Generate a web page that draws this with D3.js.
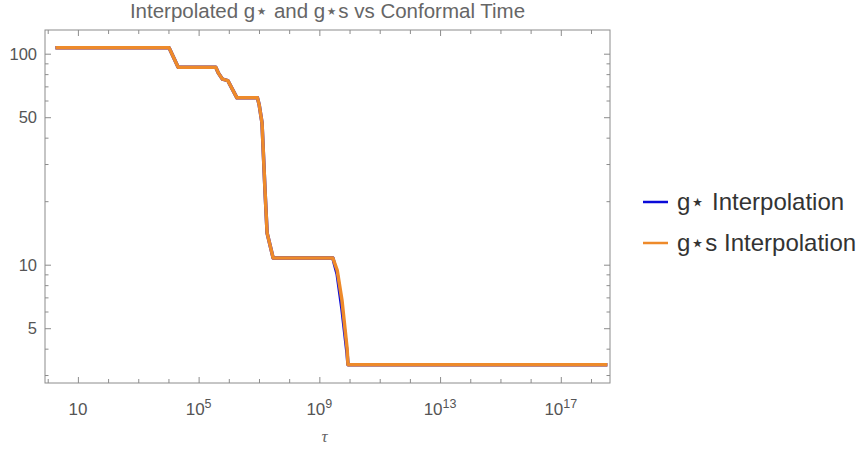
<!DOCTYPE html>
<html>
<head>
<meta charset="utf-8">
<script src="https://cdn.jsdelivr.net/npm/d3@7"></script>
<style>
  html, body { margin: 0; padding: 0; background: #fff; }
  svg { display: block; }
</style>
</head>
<body>
<svg id="chart" width="864" height="450"></svg>
<script>
// Conformal time samples and the interpolated degrees of freedom
const tau = [1.8e0, 1.05e4, 2.1e4, 3.7e5, 4.5e5, 6.2e5, 9.3e5, 1.86e6, 8.9e6, 1.02e7,
             1.26e7, 1.58e7, 1.86e7, 2.95e7, 2.8e9, 3.9e9, 5.6e9, 8.3e9, 8.9e9, 3.5e18];
const gStar  = [106.75, 106.75, 86.25, 86.25, 81.0, 75.75, 74.5, 61.75, 61.75, 57.0,
                47.0, 22.6, 14.1, 10.75, 10.75, 9.0, 6.2, 3.8, 3.36, 3.36];
const gStarS = [106.75, 106.75, 86.25, 86.25, 81.0, 75.75, 74.5, 61.75, 61.75, 57.0,
                47.0, 22.6, 14.1, 10.75, 10.75, 9.4, 6.8, 4.0, 3.36, 3.36];

const seriesNames = ["g\u22C6 Interpolation", "g\u22C6s Interpolation"];
const seriesColors = ["#0a0ad8", "#ee8a2a"];

// Axis ticks
const xLabelExps = [1, 5, 9, 13, 17];
const xMinorExps = [0, 2, 3, 4, 6, 7, 8, 10, 11, 12, 14, 15, 16, 18];
const yMajor = [5, 10, 50, 100];
const yMinor = [3, 4, 6, 7, 8, 9, 20, 30, 40, 60, 70, 80, 90];

const titleText = "Interpolated g\u22C6 and g\u22C6s vs Conformal Time";
const xAxisLabel = "\u03C4";

const svg = d3.select("#chart");
const W = 864, H = 450;
svg.append("rect").attr("width", W).attr("height", H).attr("fill", "#fff");

const plot = { left: 45, right: 610, top: 30, bottom: 383 };

const x = d3.scaleLog().domain([Math.pow(10, -0.09), Math.pow(10, 18.63)])
  .range([plot.left, plot.right]);
const y = d3.scaleLog().domain([2.75, 129.5]).range([plot.bottom, plot.top]);

const frameColor = "#8c8c8c";
const labelColor = "#555";
const fontSans = "'Liberation Sans', Arial, sans-serif";

// Frame
svg.append("rect")
  .attr("x", plot.left).attr("y", plot.top)
  .attr("width", plot.right - plot.left).attr("height", plot.bottom - plot.top)
  .attr("fill", "none").attr("stroke", frameColor).attr("stroke-width", 1);

// Tick helpers: ticks point into the frame on all four sides
function styleAxis(g) {
  g.select(".domain").remove();
  g.selectAll(".tick line").attr("stroke", frameColor).attr("stroke-width", 1);
  g.selectAll(".tick text").remove();
}
const xMajorVals = xLabelExps.map(e => Math.pow(10, e));
const xMinorVals = xMinorExps.map(e => Math.pow(10, e));

[[d3.axisBottom, plot.bottom], [d3.axisTop, plot.top]].forEach(([axisFn, yPos]) => {
  svg.append("g").attr("transform", `translate(0,${yPos})`)
    .call(axisFn(x).tickValues(xMajorVals).tickSize(-6).tickFormat(""))
    .call(styleAxis);
  svg.append("g").attr("transform", `translate(0,${yPos})`)
    .call(axisFn(x).tickValues(xMinorVals).tickSize(-4).tickFormat(""))
    .call(styleAxis);
});
[[d3.axisLeft, plot.left], [d3.axisRight, plot.right]].forEach(([axisFn, xPos]) => {
  svg.append("g").attr("transform", `translate(${xPos},0)`)
    .call(axisFn(y).tickValues(yMajor).tickSize(-6).tickFormat(""))
    .call(styleAxis);
  svg.append("g").attr("transform", `translate(${xPos},0)`)
    .call(axisFn(y).tickValues(yMinor).tickSize(-3.5).tickFormat(""))
    .call(styleAxis);
});

// X tick labels as powers of ten
const xl = svg.append("g").attr("font-family", fontSans).attr("font-size", 17)
  .attr("fill", labelColor);
xLabelExps.forEach(e => {
  const t = xl.append("text")
    .attr("x", x(Math.pow(10, e))).attr("y", 415)
    .attr("text-anchor", "middle");
  t.append("tspan").text("10");
  if (e !== 1) {
    t.append("tspan").attr("dy", -7).attr("font-size", 12.5).text(String(e));
  }
});

// Y tick labels
svg.append("g").attr("font-family", fontSans).attr("font-size", 16.5)
  .attr("fill", labelColor)
  .selectAll("text").data(yMajor).join("text")
  .attr("x", plot.left - 8).attr("y", d => y(d) + 6)
  .attr("text-anchor", "end")
  .text(d => d);

// Curves
const line = d3.line().x(d => x(d[0])).y(d => y(d[1]));
const series = [gStar, gStarS];
series.forEach((vals, i) => {
  svg.append("path")
    .datum(tau.map((t, k) => [t, vals[k]]))
    .attr("d", line)
    .attr("fill", "none")
    .attr("stroke", seriesColors[i])
    .attr("stroke-width", 3.5)
    .attr("stroke-linejoin", "round");
});

// Title and axis label
svg.append("text").attr("x", (plot.left + plot.right) / 2).attr("y", 18)
  .attr("text-anchor", "middle").attr("font-family", fontSans)
  .attr("font-size", 20.5).attr("fill", "#666").text(titleText);

svg.append("text").attr("x", (plot.left + plot.right) / 2 - 3).attr("y", 442)
  .attr("text-anchor", "middle").attr("font-family", "'Liberation Serif', serif")
  .attr("font-style", "italic").attr("font-size", 17).attr("fill", "#666")
  .text(xAxisLabel);

// Legend
const legend = svg.append("g").attr("font-family", fontSans).attr("font-size", 24)
  .attr("fill", "#333");
seriesNames.forEach((name, i) => {
  const ly = 202 + i * 41;
  legend.append("line").attr("x1", 643).attr("x2", 668).attr("y1", ly).attr("y2", ly)
    .attr("stroke", seriesColors[i]).attr("stroke-width", 2.5);
  legend.append("text").attr("x", 677).attr("y", ly + 8).text(name);
});
</script>
</body>
</html>
